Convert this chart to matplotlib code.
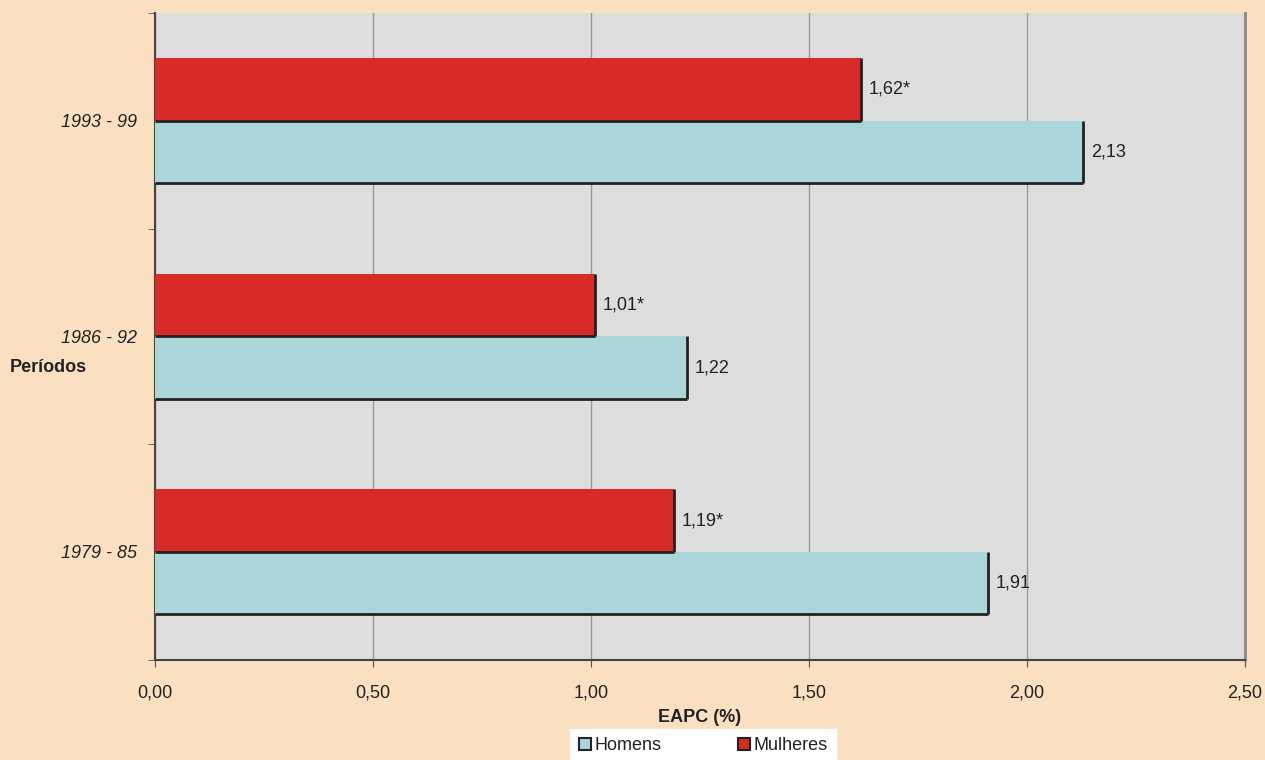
import matplotlib.pyplot as plt
import numpy as np
from matplotlib.patches import Patch

plt.rcParams['font.family'] = ['Liberation Sans', 'DejaVu Sans']

periodos = ['1979 - 85', '1986 - 92', '1993 - 99']
homens = [1.91, 1.22, 2.13]
mulheres = [1.19, 1.01, 1.62]
rot_homens = ['1,91', '1,22', '2,13']
rot_mulheres = ['1,19*', '1,01*', '1,62*']
xticks = [0.0, 0.5, 1.0, 1.5, 2.0, 2.5]
xtick_labels = ['0,00', '0,50', '1,00', '1,50', '2,00', '2,50']

bg = '#FADFC0'
cor_h = '#AAD6DA'
cor_m = '#D92A27'

fig = plt.figure(figsize=(12.65, 7.6), dpi=100, facecolor=bg)
ax = fig.add_axes([0.1225, 0.132, 0.8615, 0.851])
ax.set_facecolor('#DDDDDD')

y = np.arange(len(periodos))
h = 0.29

ax.barh(y - h / 2, homens, height=h, color=cor_h, zorder=3)
ax.barh(y + h / 2, mulheres, height=h, color=cor_m, zorder=3)

# bordas escuras (direita e base) das barras
for yy, vals in [(y - h / 2, homens), (y + h / 2, mulheres)]:
    for yi, v in zip(yy, vals):
        ax.plot([0, v], [yi - h / 2, yi - h / 2], color='#222222', lw=2, zorder=4,
                solid_capstyle='butt')
        ax.plot([v, v], [yi - h / 2, yi + h / 2], color='#222222', lw=2, zorder=4,
                solid_capstyle='butt')

fs = 13
for yi, v, t in zip(y - h / 2, homens, rot_homens):
    ax.text(v + 0.018, yi, t, va='center', ha='left', fontsize=fs, color='#222222', zorder=5)
for yi, v, t in zip(y + h / 2, mulheres, rot_mulheres):
    ax.text(v + 0.018, yi, t, va='center', ha='left', fontsize=fs, color='#222222', zorder=5)

ax.set_xlim(0, 2.5)
ax.set_ylim(-0.5, 2.5)
ax.set_xticks(xticks)
ax.set_xticklabels(xtick_labels, fontsize=fs, color='#222222')
ax.xaxis.grid(True, color='#999999', lw=1, zorder=1)
ax.set_axisbelow(True)

ax.set_yticks(y)
ax.set_yticklabels(periodos, fontsize=fs, style='italic', color='#222222')
ax.tick_params(axis='y', length=0, pad=13)
ax.set_yticks(np.arange(-0.5, 3, 1), minor=True)
ax.tick_params(axis='y', which='minor', length=5, color='#555555')
ax.tick_params(axis='x', length=5, color='#555555', pad=13)

ax.spines['top'].set_visible(False)
ax.spines['left'].set_color('#444444')
ax.spines['left'].set_linewidth(1.5)
ax.spines['bottom'].set_color('#444444')
ax.spines['bottom'].set_linewidth(1.5)
ax.spines['right'].set_color('#888888')
ax.spines['right'].set_linewidth(2)

ax.set_xlabel('EAPC (%)', fontsize=fs, fontweight='bold', color='#222222', labelpad=5)
fig.text(0.008, 0.517, 'Períodos', fontsize=fs, fontweight='bold', color='#222222',
         ha='left', va='center')

handles = [Patch(facecolor=cor_h, edgecolor='#222222', lw=1.5, label='Homens'),
           Patch(facecolor=cor_m, edgecolor='#222222', lw=1.5, label='Mulheres')]
leg = fig.legend(handles=handles, loc='lower center', bbox_to_anchor=(0.556, -0.003), ncol=2,
                 frameon=True, framealpha=1, fontsize=fs, handlelength=0.7, handleheight=0.7,
                 handletextpad=0.2, columnspacing=4.2, borderpad=0.45, borderaxespad=0,
                 fancybox=False)
leg.get_frame().set_facecolor('white')
leg.get_frame().set_edgecolor('white')
for t in leg.get_texts():
    t.set_color('#222222')

fig.savefig('out.png', dpi=100, facecolor=bg)
